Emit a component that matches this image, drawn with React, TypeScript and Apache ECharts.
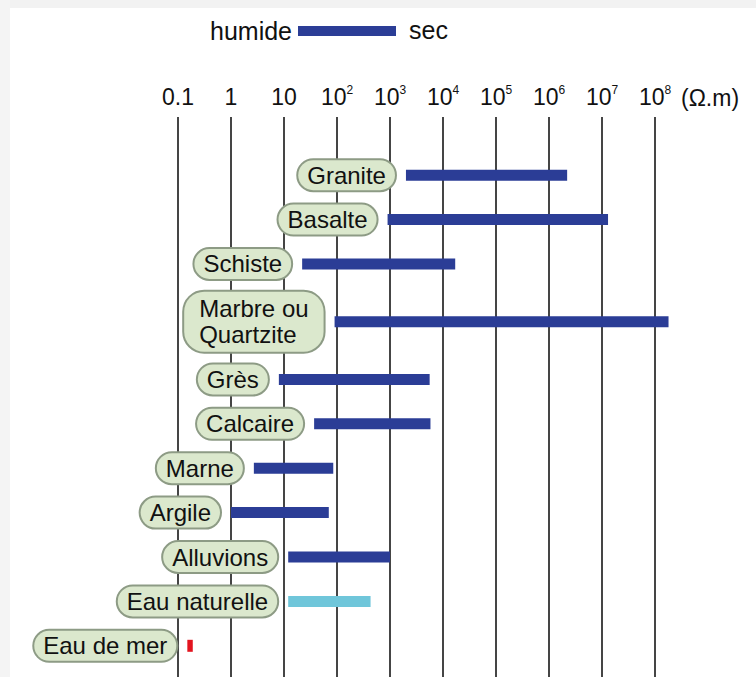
import React, { useEffect, useRef } from "react";
import * as echarts from "echarts";

// Rock / water types (top to bottom)
const categories = [
  "Granite",
  "Basalte",
  "Schiste",
  "Marbre ou\nQuartzite",
  "Grès",
  "Calcaire",
  "Marne",
  "Argile",
  "Alluvions",
  "Eau naturelle",
  "Eau de mer",
];
// Resistivity range (Ω.m): wet (humide) end and dry (sec) end
const lowValues = [2000, 900, 22, 90, 8, 37, 2.7, 1, 12, 12, 0.15];
const highValues = [2.2e6, 1.3e7, 1.7e4, 1.8e8, 5600, 5800, 85, 70, 1000, 430, 0.19];
const kinds = ["roche", "roche", "roche", "roche", "roche", "roche", "roche", "roche", "roche", "eau", "mer"];

// Decade tick labels: exponent -> label
const tickExponents = [-1, 0, 1, 2, 3, 4, 5, 6, 7, 8];
const tickLabels = ["0.1", "1", "10", "10^2", "10^3", "10^4", "10^5", "10^6", "10^7", "10^8"];

const KIND_COLORS: Record<string, string> = {
  roche: "#2b3d96",
  eau: "#6fc6da",
  mer: "#e3141f",
};
const FONT_FAMILY = '"Liberation Sans", Arial, Helvetica, sans-serif';

export default function App() {
  const ref = useRef<HTMLDivElement>(null);

  useEffect(() => {
    if (!ref.current) return;
    const chart = echarts.init(ref.current, undefined, { renderer: "svg" });

    // Row heights follow the number of lines of each label
    const rowH = categories.map((n) => (n.includes("\n") ? 1.6 : 1));
    const rowCenters: number[] = [];
    let acc = 0;
    rowH.forEach((h) => {
      rowCenters.push(acc + h / 2);
      acc += h;
    });
    const rowTotal = acc;

    const data = categories.map((_, i) => [
      Math.log10(lowValues[i]),
      Math.log10(highValues[i]),
      rowCenters[i],
    ]);

    const labelFont = `24px ${FONT_FAMILY}`;
    const labelLH = 26;

    const option: any = {
      animation: false,
      backgroundColor: "#ffffff",
      grid: [
        { left: 178, right: 101, top: 117, bottom: 0 },
        { left: 178, right: 101, top: 153, bottom: 9 },
      ],
      xAxis: [
        {
          gridIndex: 0,
          type: "value",
          position: "top",
          min: -1,
          max: 8,
          interval: 1,
          axisLine: { show: false },
          axisTick: { show: false },
          axisLabel: {
            margin: 7,
            color: "#111",
            formatter: (v: number) => {
              const idx = tickExponents.indexOf(Math.round(v));
              const lbl = idx >= 0 ? tickLabels[idx] : "";
              if (lbl.includes("^")) {
                const [b, s] = lbl.split("^");
                return `{b|${b}}{s|${s}}`;
              }
              return `{b|${lbl}}`;
            },
            rich: {
              b: { fontSize: 23, fontFamily: FONT_FAMILY, color: "#111", lineHeight: 26 },
              s: {
                fontSize: 12,
                fontFamily: FONT_FAMILY,
                color: "#111",
                lineHeight: 14,
                verticalAlign: "top",
              },
            },
          },
          splitLine: { show: true, lineStyle: { color: "#454545", width: 2 } },
        },
        {
          gridIndex: 1,
          type: "value",
          min: -1,
          max: 8,
          interval: 1,
          show: false,
          splitLine: { show: false },
        },
      ],
      yAxis: [
        { gridIndex: 0, type: "value", show: false, splitLine: { show: false } },
        {
          gridIndex: 1,
          type: "value",
          inverse: true,
          min: 0,
          max: rowTotal,
          show: false,
          splitLine: { show: false },
        },
      ],
      graphic: [
        { type: "rect", z: -10, shape: { x: 0, y: 0, width: 756, height: 8 }, style: { fill: "#f2f2f2" } },
        { type: "rect", z: -10, shape: { x: 0, y: 0, width: 10, height: 677 }, style: { fill: "#f4f4f4" } },
        {
          type: "text",
          x: 292,
          y: 31,
          style: { text: "humide", font: `25px ${FONT_FAMILY}`, fill: "#111", align: "right", verticalAlign: "middle" },
        },
        {
          type: "rect",
          shape: { x: 298, y: 26, width: 98, height: 10 },
          style: { fill: KIND_COLORS.roche },
        },
        {
          type: "text",
          x: 409,
          y: 30,
          style: { text: "sec", font: `25px ${FONT_FAMILY}`, fill: "#111", align: "left", verticalAlign: "middle" },
        },
        {
          type: "text",
          x: 681,
          y: 98,
          style: { text: "(Ω.m)", font: `23px ${FONT_FAMILY}`, fill: "#111", align: "left", verticalAlign: "middle" },
        },
      ],
      series: [
        {
          type: "custom",
          xAxisIndex: 1,
          yAxisIndex: 1,
          clip: false,
          encode: { x: [0, 1], y: 2 },
          data,
          renderItem: (params: any, api: any) => {
            const yv = api.value(2);
            const p0 = api.coord([api.value(0), yv]);
            const p1 = api.coord([api.value(1), yv]);
            const name = categories[params.dataIndex];
            const kind = kinds[params.dataIndex];
            const color = KIND_COLORS[kind];
            const multi = name.includes("\n");
            const barH = kind === "mer" ? 12 : 11;
            const padX = multi ? 15 : 9;
            const padY = multi ? 4 : 2;
            const rect = new echarts.graphic.Text({
              style: { text: name, font: labelFont, lineHeight: labelLH },
            }).getBoundingRect();
            const pillW = rect.width + padX * 2;
            const gap = 11;
            return {
              type: "group",
              children: [
                {
                  type: "rect",
                  shape: {
                    x: p0[0],
                    y: p0[1] - barH / 2,
                    width: Math.max(p1[0] - p0[0], 4),
                    height: barH,
                  },
                  style: { fill: color },
                },
                {
                  type: "text",
                  x: p0[0] - gap - pillW,
                  y: p0[1],
                  style: {
                    text: name,
                    font: labelFont,
                    lineHeight: labelLH,
                    fill: "#111",
                    align: "left",
                    verticalAlign: "middle",
                    backgroundColor: "#dbe8cd",
                    borderColor: "#8d9b85",
                    borderWidth: 2,
                    borderRadius: multi ? 20 : 16,
                    padding: [padY, padX],
                  },
                },
              ],
            };
          },
        },
      ],
    };

    chart.setOption(option);
    return () => chart.dispose();
  }, []);

  return (
    <div
      ref={ref}
      style={{ position: "fixed", left: 0, top: 0, width: 756, height: 677 }}
    />
  );
}
